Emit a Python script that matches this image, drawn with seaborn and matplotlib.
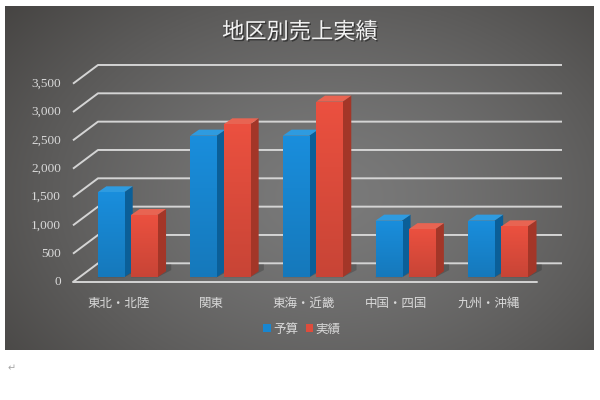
import numpy as np
import pandas as pd
import matplotlib
matplotlib.use("Agg")
import matplotlib.pyplot as plt
import matplotlib.patheffects as pe
import seaborn as sns
from matplotlib.patches import Polygon, Patch
from matplotlib.colors import to_rgb

# ---------------- data ----------------
TITLE = "地区別売上実績"
REGIONS = ["東北・北陸", "関東", "東海・近畿", "中国・四国", "九州・沖縄"]
SERIES = ["予算", "実績"]
BUDGET = [1500, 2500, 2500, 1000, 1000]
ACTUAL = [1100, 2700, 3100, 850, 900]
Y_TICKS = [0, 500, 1000, 1500, 2000, 2500, 3000, 3500]

df = pd.DataFrame({
    "地区": REGIONS * 2,
    "系列": [SERIES[0]] * len(REGIONS) + [SERIES[1]] * len(REGIONS),
    "値": BUDGET + ACTUAL,
})

# ---------------- style ----------------
sns.set_style("white")
plt.rcParams["font.family"] = ["Noto Sans CJK JP", "DejaVu Sans"]

FRONT = {"予算": "#1886d0", "実績": "#de4c3c"}
TOP = {"予算": "#2e9be0", "実績": "#e86452"}
SIDE = {"予算": "#0b5f98", "実績": "#a33628"}
TXT = "#d9d9d9"
GRID = "#d4d4d4"

fig = plt.figure(figsize=(6, 4), dpi=100)
fig.patch.set_facecolor("white")

# background panel with radial gradient
bg = fig.add_axes([5 / 600, 50 / 400, 589 / 600, 344 / 400])
H, W = 344, 589
yy, xx = np.mgrid[0:H, 0:W]
cx, cy = 0.55 * W, 0.55 * H
r = np.sqrt(((xx - cx) / (0.78 * W)) ** 2 + ((yy - cy) / (0.95 * H)) ** 2)
t = np.clip(r, 0, 1) ** 1.4
light = np.array(to_rgb("#7a7a7a"))
dark = np.array(to_rgb("#3f3d3b"))
img = light * (1 - t)[..., None] + dark * t[..., None]
bg.imshow(img, aspect="auto", extent=[0, 1, 0, 1], origin="upper")
bg.set_xlim(0, 1)
bg.set_ylim(0, 1)
bg.set_axis_off()

# main axes (front plane of bars)
ax = fig.add_axes([73 / 600, 110 / 400, 489 / 600, 230 / 400])
ax.set_facecolor("none")
sns.barplot(data=df, x="地区", y="値", hue="系列", hue_order=SERIES,
            palette=[FRONT[s] for s in SERIES], width=0.72, gap=0.21,
            saturation=1, legend=False, ax=ax)
XMIN, XMAX = -0.5885, 4.6914
YMIN, YMAX = -224, 3835
ax.set_xlim(XMIN, XMAX)
ax.set_ylim(YMIN, YMAX)
ax.set_axis_off()

bb = ax.get_window_extent()
px_x = bb.width / (XMAX - XMIN)   # pixels per category unit
px_y = bb.height / (YMAX - YMIN)  # pixels per value unit


def dx(p):
    return p / px_x


def dy(p):
    return p / px_y


# depth geometry (pixels)
WALL_DX, WALL_UP = 25, 14      # back wall relative to bar front plane
FRONT_DOWN = 4.7               # floor front edge below bar front plane
BAR_DX, BAR_DY = 8.7, 6.0      # depth of bars

# gridlines (floor diagonal + back wall)
for v in Y_TICKS:
    xs = [XMIN, XMIN + dx(WALL_DX), XMAX]
    ys = [v - dy(FRONT_DOWN), v + dy(WALL_UP), v + dy(WALL_UP)]
    ax.plot(xs, ys, color=GRID, lw=1.4, zorder=1, solid_capstyle="butt",
            clip_on=False)
    ax.text(XMIN - dx(12), v - dy(FRONT_DOWN), f"{v:,}", ha="right",
            va="center", color=TXT, fontsize=9.5, family="Liberation Serif")
# floor front edge
ax.plot([XMIN, XMAX - dx(WALL_DX)], [-dy(FRONT_DOWN)] * 2, color=GRID, lw=1.4,
        zorder=1, clip_on=False)

# 3D faces for bars
patches = sorted(ax.patches, key=lambda p: p.get_x())
n = len(REGIONS)
series_of = {}
for i, p in enumerate(ax.patches):
    series_of[id(p)] = SERIES[i // n]

for k, p in enumerate(patches):
    s = series_of[id(p)]
    x0, w, h = p.get_x(), p.get_width(), p.get_height()
    ddx, ddy = dx(BAR_DX), dy(BAR_DY)
    z = 3 + k * 0.1
    shadow = Polygon([(x0 + w, 0), (x0 + w + ddx * 1.6, ddy * 1.2),
                      (x0 + w + ddx * 1.6, ddy * 2.2), (x0 + ddx, ddy * 2.2),
                      (x0, 0)], closed=True, facecolor="black", alpha=0.18,
                     edgecolor="none", zorder=2)
    ax.add_patch(shadow)
    side = Polygon([(x0 + w, 0), (x0 + w + ddx, ddy), (x0 + w + ddx, h + ddy),
                    (x0 + w, h)], closed=True, facecolor=SIDE[s],
                   edgecolor="none", zorder=z)
    top = Polygon([(x0, h), (x0 + ddx, h + ddy), (x0 + w + ddx, h + ddy),
                   (x0 + w, h)], closed=True, facecolor=TOP[s],
                  edgecolor="none", zorder=z)
    ax.add_patch(side)
    ax.add_patch(top)
    p.set_zorder(z + 0.05)
    p.set_edgecolor("none")
    c = np.array(to_rgb(FRONT[s]))
    grad = np.linspace(1.06, 0.9, 64)[:, None, None] * c[None, None, :]
    grad = np.clip(grad, 0, 1)
    im = ax.imshow(grad, extent=[x0, x0 + w, 0, h], aspect="auto",
                   origin="upper", zorder=z + 0.06)
    im.set_clip_path(p)

ax.set_xlim(XMIN, XMAX)
ax.set_ylim(YMIN, YMAX)

# category labels (front plane)
for i, name in enumerate(REGIONS):
    ax.text(i - dx(9), -dy(25.7), name, ha="center", va="center",
            color=TXT, fontsize=9)

# title
fig.text(300 / 600, 1 - 32 / 400, TITLE, ha="center", va="center",
         color="#f2f2f2", fontsize=16,
         path_effects=[pe.withSimplePatchShadow(offset=(1, -1),
                                                shadow_rgbFace="black",
                                                alpha=0.45)])

# legend
handles = [Patch(facecolor=FRONT[s], edgecolor="none", label=s) for s in SERIES]
leg = fig.legend(handles=handles, loc="center", ncol=2, frameon=False,
                 bbox_to_anchor=(302 / 600, 1 - 329 / 400), fontsize=9,
                 handlelength=0.6, handleheight=0.6, handletextpad=0.2,
                 columnspacing=0.6, labelcolor=TXT)

# document paragraph mark below the chart
fig.text(8 / 600, 1 - 368 / 400, "↵", ha="left", va="center",
         color="#a6a6a6", fontsize=7, family="DejaVu Sans")

fig.savefig("out.png", dpi=100, facecolor="white")
